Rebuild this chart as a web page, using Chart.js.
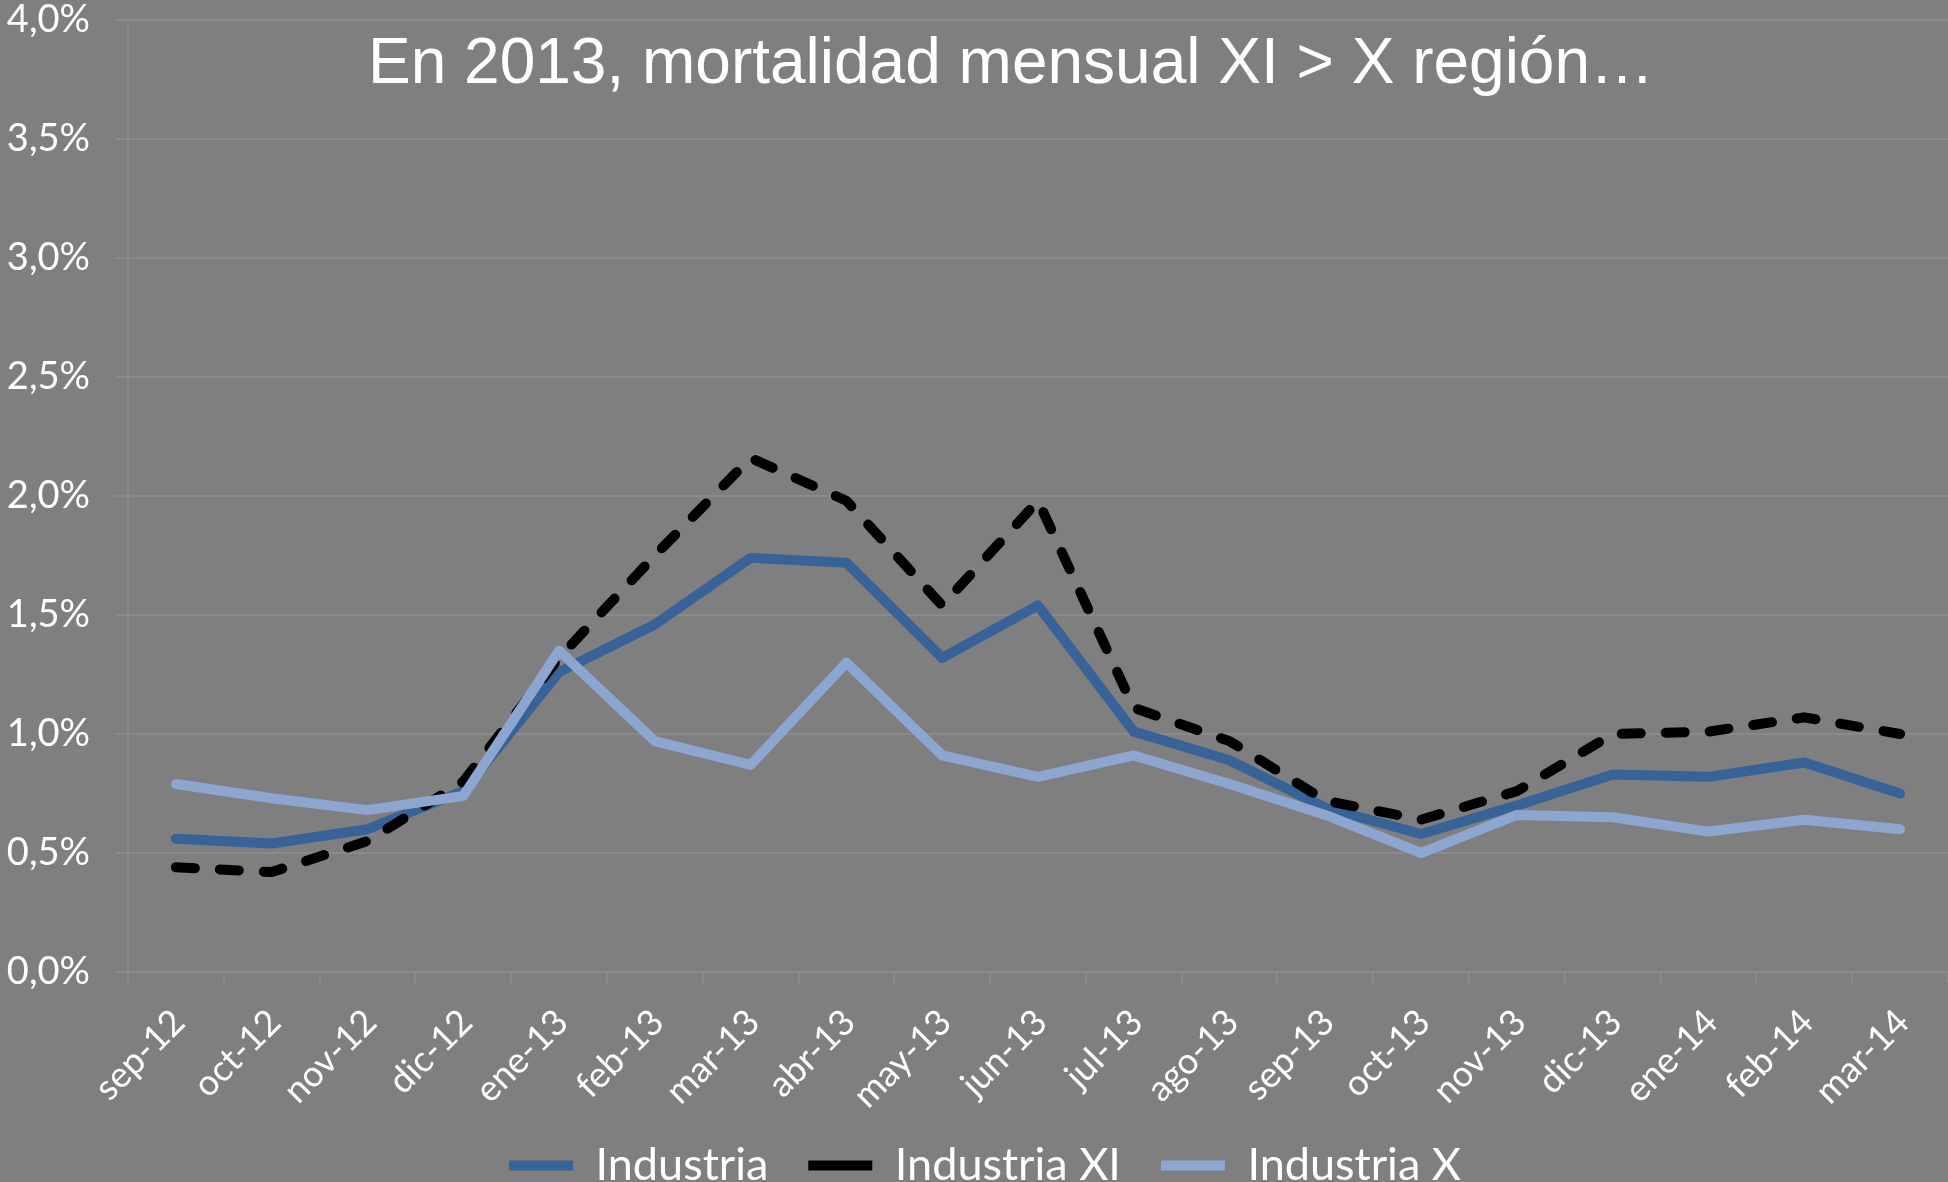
<!DOCTYPE html>
<html>
<head>
<meta charset="utf-8">
<script src="https://cdn.jsdelivr.net/npm/chart.js@4.4.0/dist/chart.umd.min.js"></script>
<style>
  html, body { margin: 0; padding: 0; background: #7f7f7f; overflow: hidden; }
  canvas { display: block; }
</style>
</head>
<body>
<canvas id="graficaMortalidad" width="1948" height="1217"></canvas>
<script>
// datos (porcentaje mensual)
const meses = ['sep-12', 'oct-12', 'nov-12', 'dic-12', 'ene-13', 'feb-13', 'mar-13', 'abr-13', 'may-13',
  'jun-13', 'jul-13', 'ago-13', 'sep-13', 'oct-13', 'nov-13', 'dic-13', 'ene-14', 'feb-14', 'mar-14'];
const industria   = [0.56, 0.54, 0.60, 0.76, 1.26, 1.46, 1.74, 1.72, 1.32, 1.54, 1.01, 0.89, 0.69, 0.58, 0.70, 0.83, 0.82, 0.88, 0.75];
const industriaXI = [0.44, 0.42, 0.55, 0.80, 1.32, 1.75, 2.16, 1.98, 1.54, 1.98, 1.11, 0.97, 0.72, 0.64, 0.76, 1.00, 1.01, 1.07, 1.00];
const industriaX  = [0.79, 0.73, 0.68, 0.74, 1.35, 0.97, 0.87, 1.30, 0.91, 0.82, 0.91, 0.79, 0.66, 0.50, 0.66, 0.65, 0.59, 0.64, 0.60];
const ticksY = [0, 0.5, 1, 1.5, 2, 2.5, 3, 3.5, 4];
const titulo = 'En 2013, mortalidad mensual XI > X región\u2026';

const gris = '#8a8a8a';

const tituloPlugin = {
  id: 'titulo',
  afterDraw(chart) {
    const ctx = chart.ctx;
    ctx.save();
    ctx.font = '64px "Liberation Sans", Arial, sans-serif';
    ctx.fillStyle = '#ffffff';
    ctx.textAlign = 'center';
    ctx.textBaseline = 'alphabetic';
    ctx.fillText(titulo, 1011, 83);
    ctx.restore();
  }
};

// la leyenda va un poco más arriba y a la derecha, como en el original
const moverLeyenda = {
  id: 'moverLeyenda',
  afterLayout(chart) {
    const ley = chart.legend;
    ley.top -= 19;
    ley.bottom -= 19;
    ley.left += 11;
    ley.right += 11;
  }
};

const serie = (label, data, color, order, dash) => ({
  label: label,
  data: data,
  borderColor: color,
  backgroundColor: color,
  borderWidth: 10,
  borderDash: dash,
  borderCapStyle: 'round',
  borderJoinStyle: 'round',
  pointRadius: 0,
  pointStyle: 'line',
  tension: 0,
  order: order
});

const ctx = document.getElementById('graficaMortalidad').getContext('2d');
new Chart(ctx, {
  type: 'line',
  data: {
    labels: meses,
    datasets: [
      serie('Industria', industria, '#376398', 3, []),
      serie('Industria XI', industriaXI, '#000000', 2, [19, 25]),
      serie('Industria X', industriaX, '#8ca6cf', 1, [])
    ]
  },
  options: {
    responsive: false,
    animation: false,
    layout: { padding: 0 },
    plugins: {
      title: { display: false },
      tooltip: { enabled: false },
      legend: {
        position: 'bottom',
        labels: {
          color: '#ffffff',
          font: { family: 'Lato', size: 45 },
          usePointStyle: true,
          pointStyleWidth: 64,
          padding: 40,
          sort: (a, b) => a.datasetIndex - b.datasetIndex
        }
      }
    },
    scales: {
      x: {
        offset: true,
        grid: { display: true, offset: true, drawOnChartArea: false, color: gris, lineWidth: 2, tickLength: 11 },
        border: { display: true, color: gris, width: 2 },
        ticks: {
          color: '#ffffff',
          font: { family: 'Lato', size: 36 },
          minRotation: 45,
          maxRotation: 45,
          autoSkip: false,
          padding: 18,
          labelOffset: 3
        },
        afterFit(scale) {
          scale.height = 150;
          scale.paddingLeft = 0;
          scale.paddingRight = 0;
        }
      },
      y: {
        min: 0,
        max: 4,
        afterBuildTicks(scale) {
          scale.ticks = ticksY.map(v => ({ value: v }));
        },
        grid: { color: gris, lineWidth: 2, tickLength: 13 },
        border: { display: true, color: gris, width: 2 },
        ticks: {
          color: '#ffffff',
          font: { family: 'Lato', size: 38 },
          padding: 25,
          callback: v => v.toFixed(1).replace('.', ',') + '%'
        },
        afterFit(scale) {
          scale.width = 128;
          scale.paddingTop = 20;
          scale.paddingBottom = 0;
        }
      }
    }
  },
  plugins: [tituloPlugin, moverLeyenda]
});
</script>
</body>
</html>
